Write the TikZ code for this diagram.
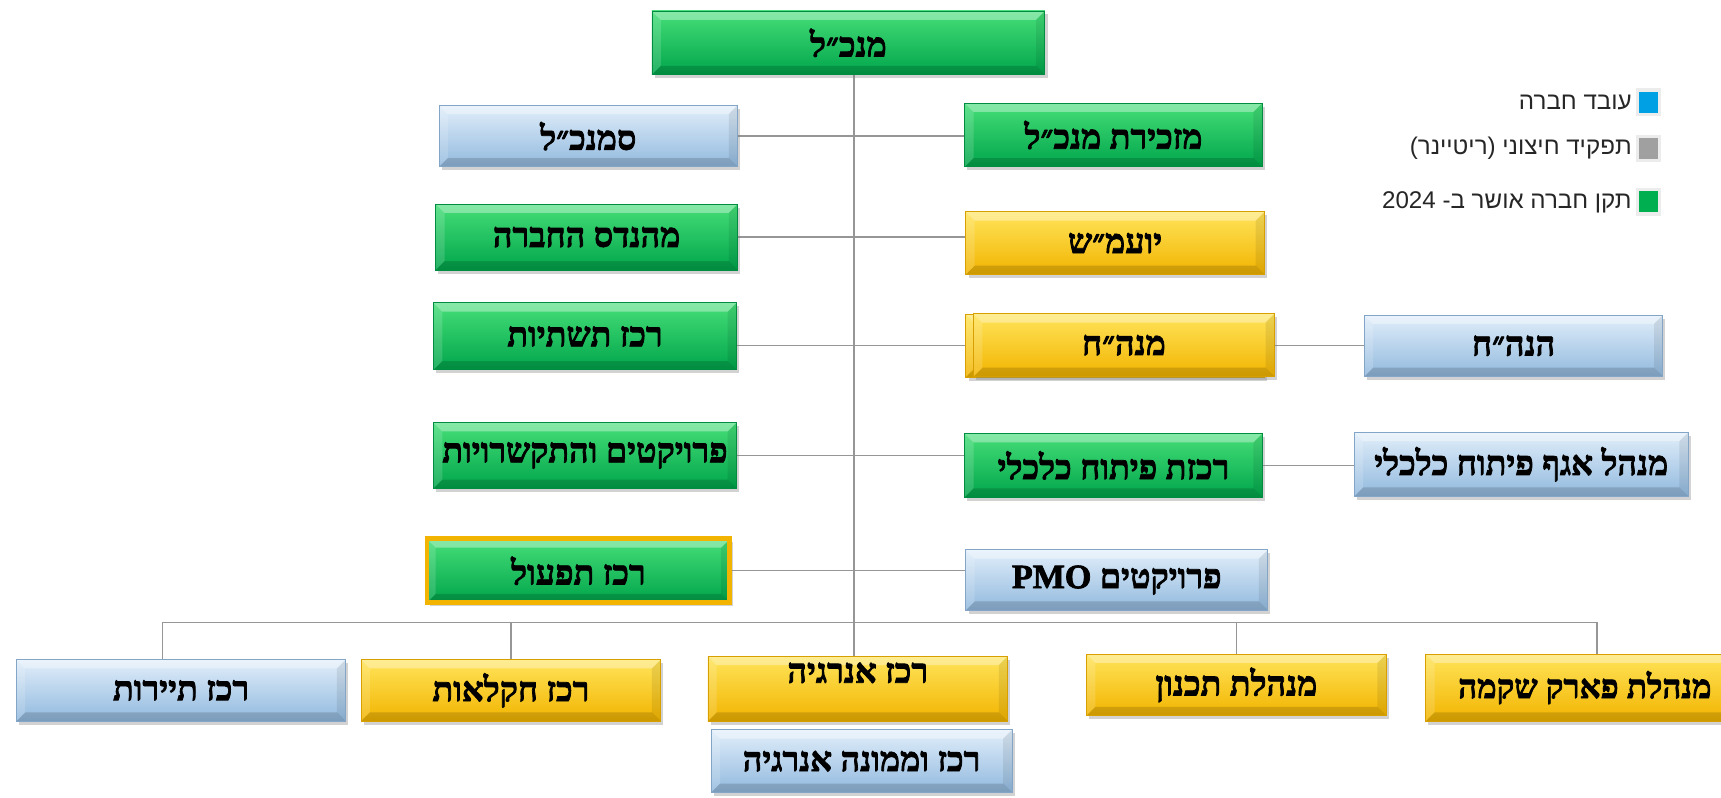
\documentclass[tikz,border=0pt]{standalone}
\usepackage{fontspec}
\usetikzlibrary{shadows,backgrounds}
\TeXXeTstate=1
\newfontfamily\hebserif[Script=Hebrew, BoldFeatures={FakeBold=2.2}]{Liberation Serif}
\newfontfamily\hebsans[Script=Hebrew]{Liberation Sans}
\newcommand\HB[1]{{\hebserif\bfseries\beginR #1\endR}}
\newcommand\HL[1]{{\hebsans\beginR #1\endR}}
\definecolor{gTop}{RGB}{70,222,120}
\definecolor{gBot}{RGB}{0,165,75}
\definecolor{gEdge}{RGB}{0,140,65}
\definecolor{yTop}{RGB}{255,228,90}
\definecolor{yBot}{RGB}{242,180,0}
\definecolor{yEdge}{RGB}{215,160,0}
\definecolor{bTop}{RGB}{225,238,250}
\definecolor{bBot}{RGB}{145,185,222}
\definecolor{bEdge}{RGB}{130,165,200}
\definecolor{connc}{RGB}{150,150,150}
\definecolor{legBlue}{RGB}{0,160,228}
\definecolor{legGray}{RGB}{160,160,160}
\definecolor{legGreen}{RGB}{0,176,80}
\tikzset{
  sz/.style 2 args={minimum width=#1*0.5pt, minimum height=#2*0.5pt},
  bevel/.style={path picture={
    \fill[white,opacity=0.35] (path picture bounding box.north west) -- (path picture bounding box.north east)
      -- ([xshift=-4pt,yshift=-4pt]path picture bounding box.north east) -- ([xshift=4pt,yshift=-4pt]path picture bounding box.north west) -- cycle;
    \fill[black,opacity=0.15] (path picture bounding box.south west) -- (path picture bounding box.south east)
      -- ([xshift=-4pt,yshift=4pt]path picture bounding box.south east) -- ([xshift=4pt,yshift=4pt]path picture bounding box.south west) -- cycle;
    \fill[black,opacity=0.08] (path picture bounding box.north east) -- (path picture bounding box.south east)
      -- ([xshift=-4pt,yshift=4pt]path picture bounding box.south east) -- ([xshift=-4pt,yshift=-4pt]path picture bounding box.north east) -- cycle;
    \fill[white,opacity=0.15] (path picture bounding box.north west) -- (path picture bounding box.south west)
      -- ([xshift=4pt,yshift=4pt]path picture bounding box.south west) -- ([xshift=4pt,yshift=-4pt]path picture bounding box.north west) -- cycle;
  }},
  orgbox/.style={rectangle, inner sep=0pt, line width=0.4pt, font=\fontsize{15.5}{17}\selectfont, text=black,
    bevel, drop shadow={shadow xshift=1.2pt, shadow yshift=-1.6pt, opacity=0.35}},
  gbox/.style={orgbox, top color=gTop, bottom color=gBot, draw=gEdge},
  ybox/.style={orgbox, top color=yTop, bottom color=yBot, draw=yEdge},
  bbox/.style={orgbox, top color=bTop, bottom color=bBot, draw=bEdge},
  conn/.style={draw=connc, line width=0.6pt},
  legsq/.style={rectangle, inner sep=0pt, minimum width=10pt, minimum height=11pt, draw=white!85!gray, line width=1.4pt},
  legtxt/.style={anchor=east, inner sep=0pt, font=\fontsize{11}{13}\selectfont, text=black!85},
}
\begin{document}
\begin{tikzpicture}[x=0.5pt,y=-0.5pt]
\useasboundingbox (0,0) rectangle (1568,727);

% top
\node[gbox, sz={358}{58}] (mgr) at (773,39) {\HB{מנכ״ל}};

% legend
\node[legsq, fill=legBlue] (lg1) at (1502,93) {};
\node[legsq, fill=legGray] (lg2) at (1502,135) {};
\node[legsq, fill=legGreen] (lg3) at (1502,184) {};
\node[legtxt] (lt1) at (1487,93) {\HL{עובד חברה}};
\node[legtxt] (lt2) at (1487,135) {\HL{תפקיד חיצוני (ריטיינר)}};
\node[legtxt] (lt3) at (1487,184) {\HL{תקן חברה אושר ב- \beginL 2024\endL}};

% left column
\node[bbox, sz={272}{56}] (deputy) at (536,124) {\HB{סמנכ״ל}};
\node[gbox, sz={275}{60}] (engineer) at (534.5,216) {\HB{מהנדס החברה}};
\node[gbox, sz={276}{61}] (infra) at (533,306.5) {\HB{רכז תשתיות}};
\node[gbox, sz={276}{60}] (projects) at (533,415) {\HB{פרויקטים והתקשרויות}};
\node[gbox, draw=yBot, line width=2.2pt, sz={276}{58}] (ops) at (527,520) {\HB{רכז תפעול}};

% right column
\node[gbox, sz={271}{58}] (secretary) at (1014.5,123) {\HB{מזכירת מנכ״ל}};
\node[ybox, sz={272}{57}] (legal) at (1016,221.5) {\HB{יועמ״ש}};
\node[ybox, sz={272}{57}] (accback) at (1016,315) {};
\node[ybox, sz={274}{57}] (accountant) at (1024,314.5) {\HB{מנה״ח}};
\node[gbox, sz={271}{58}] (econdev) at (1014.5,424) {\HB{רכזת פיתוח כלכלי}};
\node[bbox, sz={275}{55}] (pmo) at (1017.5,528.5) {\HB{פרויקטים \beginL PMO\endL}};

% far right
\node[bbox, sz={272}{56}] (hanhach) at (1379,315) {\HB{הנה״ח}};
\node[bbox, sz={304}{58}] (econmgr) at (1386,423) {\HB{מנהל אגף פיתוח כלכלי}};

% bottom row
\node[bbox, sz={300}{56}] (tourism) at (165,629) {\HB{רכז תיירות}};
\node[ybox, sz={273}{56}] (agri) at (465.5,629) {\HB{רכז חקלאות}};
\node[ybox, sz={273}{59}, text height=12pt, text depth=17.5pt] (energy) at (781.5,627.5) {\HB{רכז אנרגיה}};
\node[bbox, sz={274}{57}] (energy2) at (785,693.5) {\HB{רכז וממונה אנרגיה}};
\node[ybox, sz={273}{56}] (plan) at (1126.5,624) {\HB{מנהלת תכנון}};
\node[ybox, sz={290}{61}, font=\fontsize{15}{17}\selectfont] (park) at (1444,626.5) {\HB{מנהלת פארק שקמה}};

% connectors
\begin{scope}[on background layer]
\fill[white] (0,0) rectangle (1568,727);
\coordinate (sp) at (778,0);
\coordinate (busL) at (148,567);
\coordinate (busR) at (1455,567);
\draw[conn] (mgr.south -| sp) -- (energy.north -| sp);
\draw[conn] (deputy.east) -- (deputy.east -| secretary.west);
\draw[conn] (engineer.east) -- (engineer.east -| legal.west);
\draw[conn] (infra.east |- accountant.west) -- (accountant.west);
\draw[conn] (accountant.east) -- (accountant.east -| hanhach.west);
\draw[conn] (projects.east) -- (projects.east -| econdev.west);
\draw[conn] (econdev.east) -- (econdev.east -| econmgr.west);
\draw[conn] (ops.east) -- (ops.east -| pmo.west);
\draw[conn] (busL) -- (busR);
\draw[conn] (busL) -- (busL |- tourism.north);
\draw[conn] (busR) -- (busR |- park.north);
\draw[conn] (agri.north) -- (agri.north |- busL);
\draw[conn] (plan.north) -- (plan.north |- busL);
\end{scope}
\end{tikzpicture}
\end{document}
